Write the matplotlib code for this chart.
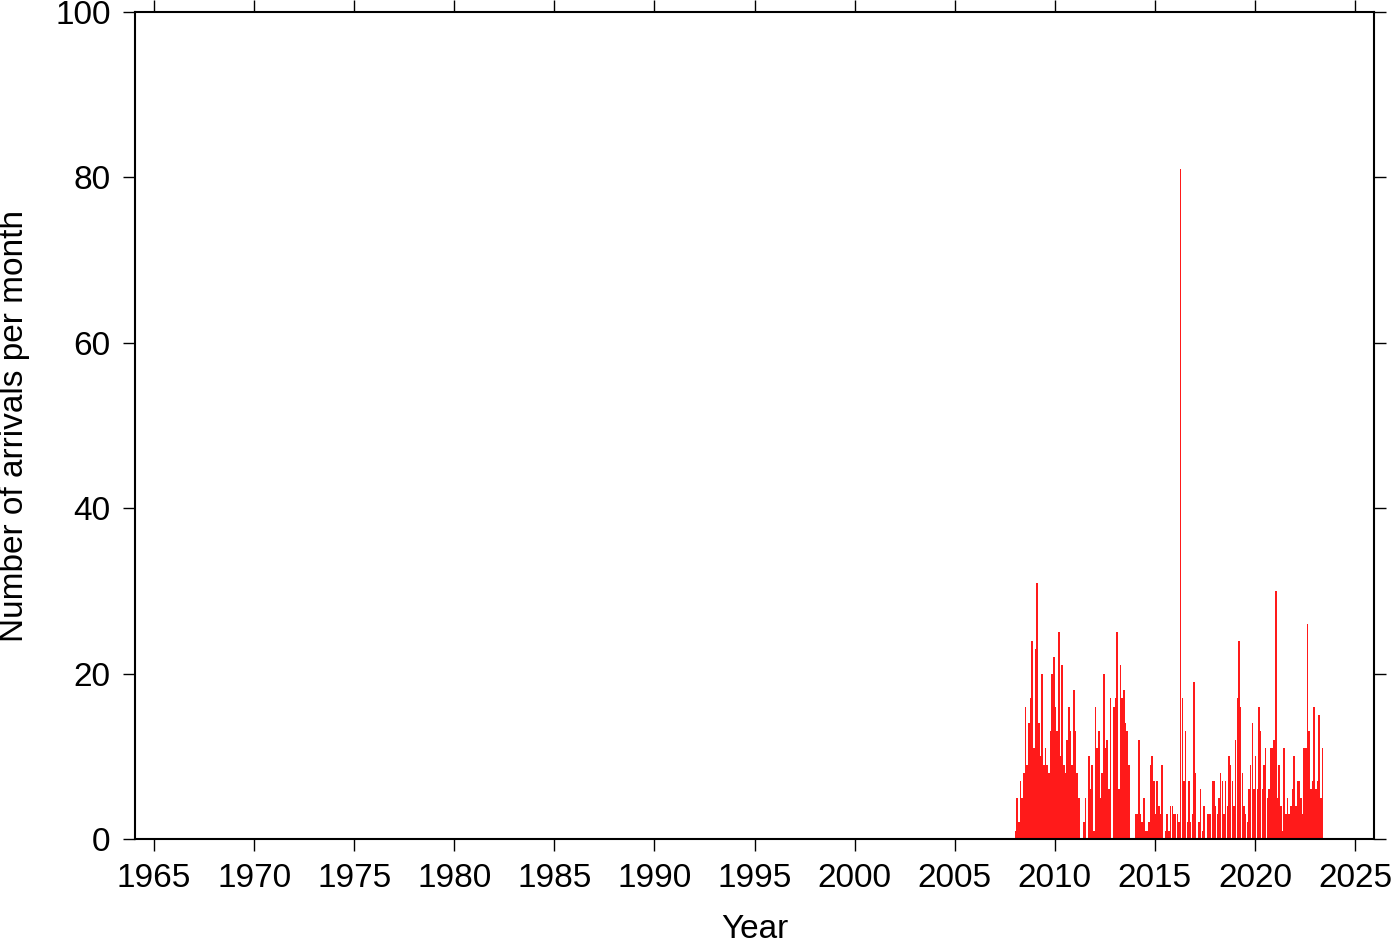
import matplotlib
matplotlib.use("Agg")
import matplotlib.pyplot as plt
import numpy as np

plt.rcParams['font.family'] = ['Liberation Sans', 'DejaVu Sans']

# Monthly arrival counts starting January 2008
start_year = 2008
counts = [
    1, 5, 2, 7, 5, 8, 16, 9, 14, 17, 24, 11,
    23, 31, 14, 10, 20, 9, 11, 9, 8, 13, 20, 22,
    16, 13, 25, 10, 21, 9, 8, 12, 16, 13, 9, 18,
    13, 8, 5, 0, 0, 2, 5, 0, 10, 6, 9, 1,
    16, 11, 13, 5, 8, 20, 11, 12, 6, 17, 0, 16,
    17, 25, 6, 21, 17, 18, 14, 13, 9, 0, 0, 0,
    3, 3, 12, 3, 2, 5, 1, 1, 2, 9, 10, 7,
    3, 7, 4, 3, 9, 0, 1, 3, 1, 4, 4, 3,
    3, 3, 2, 81, 17, 7, 13, 2, 7, 2, 3, 19,
    8, 0, 2, 6, 1, 4, 0, 3, 3, 3, 7, 7,
    4, 3, 5, 8, 7, 3, 7, 4, 10, 9, 7, 4,
    12, 17, 24, 16, 8, 4, 3, 2, 6, 9, 14, 6,
    10, 6, 16, 13, 6, 9, 11, 5, 6, 11, 11, 12,
    30, 5, 9, 4, 1, 11, 3, 5, 3, 4, 6, 10,
    4, 7, 7, 5, 3, 11, 11, 26, 13, 6, 7, 16,
    6, 7, 15, 5, 11,
]
x_ticks = list(range(1965, 2030, 5))
y_ticks = [0, 20, 40, 60, 80, 100]

months = start_year + np.arange(len(counts)) / 12.0

fig = plt.figure(figsize=(14, 9.42), dpi=100)
ax = fig.add_axes([135/1400, 1 - 839/942, (1374-135)/1400, (839-12)/942])

ax.bar(months, counts, width=1/12 * 0.95, align='edge', color='#ff1a1a',
       edgecolor='none', linewidth=0)

ax.set_xlim(1964.05, 2025.95)
ax.set_ylim(0, 100)
ax.set_xticks(x_ticks)
ax.set_yticks(y_ticks)

for s in ax.spines.values():
    s.set_linewidth(1.5)

ax.tick_params(axis='both', which='major', direction='out', length=8.5, width=1.0,
               labelsize=24, top=True, right=True, labeltop=False, labelright=False)
ax.tick_params(axis='x', pad=9)
ax.tick_params(axis='y', pad=9)

ax.set_xlabel('Year', fontsize=24, labelpad=14)
ax.set_ylabel('Number of arrivals per month', fontsize=24, labelpad=18)

fig.savefig('out.png', dpi=100)
